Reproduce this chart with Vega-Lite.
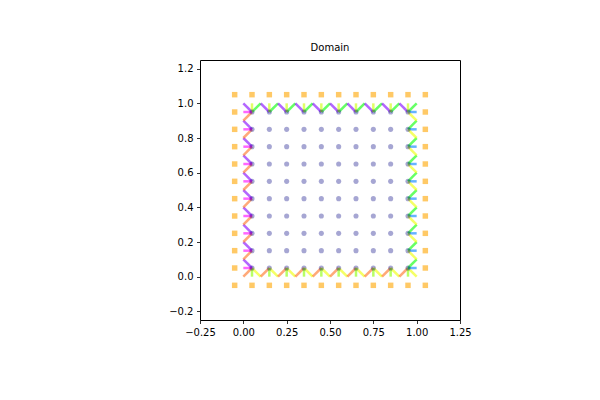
{
"$schema": "https://vega.github.io/schema/vega-lite/v6.json",
"autosize": {"type": "none"},
"padding": {"left": 200, "top": 60, "right": 140, "bottom": 80},
"width": 260,
"height": 260,
"background": "white",
"title": {"text": "Domain", "fontSize": 10, "fontWeight": "normal", "font": "DejaVu Sans", "color": "black", "offset": 7},
"config": {
"view": {"stroke": "black", "strokeWidth": 1},
"axis": {"grid": false, "domain": false, "tickColor": "black", "tickSize": 3.5, "tickWidth": 0.8, "labelPadding": 3.5, "labelFont": "DejaVu Sans", "labelFontSize": 10, "labelColor": "black", "labelFlush": false, "labelOverlap": false, "labelBound": false, "title": null}
},
"datasets": {
"ghost": [
{"x":-0.05,"y":1.05},{"x":0.05,"y":1.05},{"x":0.15,"y":1.05},{"x":0.25,"y":1.05},{"x":0.35,"y":1.05},{"x":0.45,"y":1.05},{"x":0.55,"y":1.05},{"x":0.65,"y":1.05},{"x":0.75,"y":1.05},{"x":0.85,"y":1.05},{"x":0.95,"y":1.05},{"x":1.05,"y":1.05},
{"x":-0.05,"y":-0.05},{"x":0.05,"y":-0.05},{"x":0.15,"y":-0.05},{"x":0.25,"y":-0.05},{"x":0.35,"y":-0.05},{"x":0.45,"y":-0.05},{"x":0.55,"y":-0.05},{"x":0.65,"y":-0.05},{"x":0.75,"y":-0.05},{"x":0.85,"y":-0.05},{"x":0.95,"y":-0.05},{"x":1.05,"y":-0.05},
{"x":-0.05,"y":0.05},{"x":-0.05,"y":0.15},{"x":-0.05,"y":0.25},{"x":-0.05,"y":0.35},{"x":-0.05,"y":0.45},{"x":-0.05,"y":0.55},{"x":-0.05,"y":0.65},{"x":-0.05,"y":0.75},{"x":-0.05,"y":0.85},{"x":-0.05,"y":0.95},
{"x":1.05,"y":0.05},{"x":1.05,"y":0.15},{"x":1.05,"y":0.25},{"x":1.05,"y":0.35},{"x":1.05,"y":0.45},{"x":1.05,"y":0.55},{"x":1.05,"y":0.65},{"x":1.05,"y":0.75},{"x":1.05,"y":0.85},{"x":1.05,"y":0.95}
],
"grid": [
{"x":0.05,"y":0.05},{"x":0.15,"y":0.05},{"x":0.25,"y":0.05},{"x":0.35,"y":0.05},{"x":0.45,"y":0.05},{"x":0.55,"y":0.05},{"x":0.65,"y":0.05},{"x":0.75,"y":0.05},{"x":0.85,"y":0.05},{"x":0.95,"y":0.05},
{"x":0.05,"y":0.15},{"x":0.15,"y":0.15},{"x":0.25,"y":0.15},{"x":0.35,"y":0.15},{"x":0.45,"y":0.15},{"x":0.55,"y":0.15},{"x":0.65,"y":0.15},{"x":0.75,"y":0.15},{"x":0.85,"y":0.15},{"x":0.95,"y":0.15},
{"x":0.05,"y":0.25},{"x":0.15,"y":0.25},{"x":0.25,"y":0.25},{"x":0.35,"y":0.25},{"x":0.45,"y":0.25},{"x":0.55,"y":0.25},{"x":0.65,"y":0.25},{"x":0.75,"y":0.25},{"x":0.85,"y":0.25},{"x":0.95,"y":0.25},
{"x":0.05,"y":0.35},{"x":0.15,"y":0.35},{"x":0.25,"y":0.35},{"x":0.35,"y":0.35},{"x":0.45,"y":0.35},{"x":0.55,"y":0.35},{"x":0.65,"y":0.35},{"x":0.75,"y":0.35},{"x":0.85,"y":0.35},{"x":0.95,"y":0.35},
{"x":0.05,"y":0.45},{"x":0.15,"y":0.45},{"x":0.25,"y":0.45},{"x":0.35,"y":0.45},{"x":0.45,"y":0.45},{"x":0.55,"y":0.45},{"x":0.65,"y":0.45},{"x":0.75,"y":0.45},{"x":0.85,"y":0.45},{"x":0.95,"y":0.45},
{"x":0.05,"y":0.55},{"x":0.15,"y":0.55},{"x":0.25,"y":0.55},{"x":0.35,"y":0.55},{"x":0.45,"y":0.55},{"x":0.55,"y":0.55},{"x":0.65,"y":0.55},{"x":0.75,"y":0.55},{"x":0.85,"y":0.55},{"x":0.95,"y":0.55},
{"x":0.05,"y":0.65},{"x":0.15,"y":0.65},{"x":0.25,"y":0.65},{"x":0.35,"y":0.65},{"x":0.45,"y":0.65},{"x":0.55,"y":0.65},{"x":0.65,"y":0.65},{"x":0.75,"y":0.65},{"x":0.85,"y":0.65},{"x":0.95,"y":0.65},
{"x":0.05,"y":0.75},{"x":0.15,"y":0.75},{"x":0.25,"y":0.75},{"x":0.35,"y":0.75},{"x":0.45,"y":0.75},{"x":0.55,"y":0.75},{"x":0.65,"y":0.75},{"x":0.75,"y":0.75},{"x":0.85,"y":0.75},{"x":0.95,"y":0.75},
{"x":0.05,"y":0.85},{"x":0.15,"y":0.85},{"x":0.25,"y":0.85},{"x":0.35,"y":0.85},{"x":0.45,"y":0.85},{"x":0.55,"y":0.85},{"x":0.65,"y":0.85},{"x":0.75,"y":0.85},{"x":0.85,"y":0.85},{"x":0.95,"y":0.85},
{"x":0.05,"y":0.95},{"x":0.15,"y":0.95},{"x":0.25,"y":0.95},{"x":0.35,"y":0.95},{"x":0.45,"y":0.95},{"x":0.55,"y":0.95},{"x":0.65,"y":0.95},{"x":0.75,"y":0.95},{"x":0.85,"y":0.95},{"x":0.95,"y":0.95}
],
"seg": [
{"x":0,"y":1,"x2":0.05,"y2":0.95,"d":"NW"},{"x":0.05,"y":0.95,"x2":0.1,"y2":1,"d":"NE"},{"x":0.05,"y":0.95,"x2":0.05,"y2":1,"d":"N"},
{"x":0.1,"y":1,"x2":0.15,"y2":0.95,"d":"NW"},{"x":0.15,"y":0.95,"x2":0.2,"y2":1,"d":"NE"},{"x":0.15,"y":0.95,"x2":0.15,"y2":1,"d":"N"},
{"x":0.2,"y":1,"x2":0.25,"y2":0.95,"d":"NW"},{"x":0.25,"y":0.95,"x2":0.3,"y2":1,"d":"NE"},{"x":0.25,"y":0.95,"x2":0.25,"y2":1,"d":"N"},
{"x":0.3,"y":1,"x2":0.35,"y2":0.95,"d":"NW"},{"x":0.35,"y":0.95,"x2":0.4,"y2":1,"d":"NE"},{"x":0.35,"y":0.95,"x2":0.35,"y2":1,"d":"N"},
{"x":0.4,"y":1,"x2":0.45,"y2":0.95,"d":"NW"},{"x":0.45,"y":0.95,"x2":0.5,"y2":1,"d":"NE"},{"x":0.45,"y":0.95,"x2":0.45,"y2":1,"d":"N"},
{"x":0.5,"y":1,"x2":0.55,"y2":0.95,"d":"NW"},{"x":0.55,"y":0.95,"x2":0.6,"y2":1,"d":"NE"},{"x":0.55,"y":0.95,"x2":0.55,"y2":1,"d":"N"},
{"x":0.6,"y":1,"x2":0.65,"y2":0.95,"d":"NW"},{"x":0.65,"y":0.95,"x2":0.7,"y2":1,"d":"NE"},{"x":0.65,"y":0.95,"x2":0.65,"y2":1,"d":"N"},
{"x":0.7,"y":1,"x2":0.75,"y2":0.95,"d":"NW"},{"x":0.75,"y":0.95,"x2":0.8,"y2":1,"d":"NE"},{"x":0.75,"y":0.95,"x2":0.75,"y2":1,"d":"N"},
{"x":0.8,"y":1,"x2":0.85,"y2":0.95,"d":"NW"},{"x":0.85,"y":0.95,"x2":0.9,"y2":1,"d":"NE"},{"x":0.85,"y":0.95,"x2":0.85,"y2":1,"d":"N"},
{"x":0.9,"y":1,"x2":0.95,"y2":0.95,"d":"NW"},{"x":0.95,"y":0.95,"x2":1,"y2":1,"d":"NE"},{"x":0.95,"y":0.95,"x2":0.95,"y2":1,"d":"N"},
{"x":0,"y":0,"x2":0.05,"y2":0.05,"d":"SW"},{"x":0.05,"y":0.05,"x2":0.1,"y2":0,"d":"SE"},{"x":0.05,"y":0.05,"x2":0.05,"y2":0,"d":"S"},
{"x":0.1,"y":0,"x2":0.15,"y2":0.05,"d":"SW"},{"x":0.15,"y":0.05,"x2":0.2,"y2":0,"d":"SE"},{"x":0.15,"y":0.05,"x2":0.15,"y2":0,"d":"S"},
{"x":0.2,"y":0,"x2":0.25,"y2":0.05,"d":"SW"},{"x":0.25,"y":0.05,"x2":0.3,"y2":0,"d":"SE"},{"x":0.25,"y":0.05,"x2":0.25,"y2":0,"d":"S"},
{"x":0.3,"y":0,"x2":0.35,"y2":0.05,"d":"SW"},{"x":0.35,"y":0.05,"x2":0.4,"y2":0,"d":"SE"},{"x":0.35,"y":0.05,"x2":0.35,"y2":0,"d":"S"},
{"x":0.4,"y":0,"x2":0.45,"y2":0.05,"d":"SW"},{"x":0.45,"y":0.05,"x2":0.5,"y2":0,"d":"SE"},{"x":0.45,"y":0.05,"x2":0.45,"y2":0,"d":"S"},
{"x":0.5,"y":0,"x2":0.55,"y2":0.05,"d":"SW"},{"x":0.55,"y":0.05,"x2":0.6,"y2":0,"d":"SE"},{"x":0.55,"y":0.05,"x2":0.55,"y2":0,"d":"S"},
{"x":0.6,"y":0,"x2":0.65,"y2":0.05,"d":"SW"},{"x":0.65,"y":0.05,"x2":0.7,"y2":0,"d":"SE"},{"x":0.65,"y":0.05,"x2":0.65,"y2":0,"d":"S"},
{"x":0.7,"y":0,"x2":0.75,"y2":0.05,"d":"SW"},{"x":0.75,"y":0.05,"x2":0.8,"y2":0,"d":"SE"},{"x":0.75,"y":0.05,"x2":0.75,"y2":0,"d":"S"},
{"x":0.8,"y":0,"x2":0.85,"y2":0.05,"d":"SW"},{"x":0.85,"y":0.05,"x2":0.9,"y2":0,"d":"SE"},{"x":0.85,"y":0.05,"x2":0.85,"y2":0,"d":"S"},
{"x":0.9,"y":0,"x2":0.95,"y2":0.05,"d":"SW"},{"x":0.95,"y":0.05,"x2":1,"y2":0,"d":"SE"},{"x":0.95,"y":0.05,"x2":0.95,"y2":0,"d":"S"},
{"x":0,"y":0.1,"x2":0.05,"y2":0.05,"d":"NW"},{"x":0,"y":0.05,"x2":0.05,"y2":0.05,"d":"W"},
{"x":0,"y":0.2,"x2":0.05,"y2":0.15,"d":"NW"},{"x":0.05,"y":0.15,"x2":0,"y2":0.1,"d":"SW"},{"x":0,"y":0.15,"x2":0.05,"y2":0.15,"d":"W"},
{"x":0,"y":0.3,"x2":0.05,"y2":0.25,"d":"NW"},{"x":0.05,"y":0.25,"x2":0,"y2":0.2,"d":"SW"},{"x":0,"y":0.25,"x2":0.05,"y2":0.25,"d":"W"},
{"x":0,"y":0.4,"x2":0.05,"y2":0.35,"d":"NW"},{"x":0.05,"y":0.35,"x2":0,"y2":0.3,"d":"SW"},{"x":0,"y":0.35,"x2":0.05,"y2":0.35,"d":"W"},
{"x":0,"y":0.5,"x2":0.05,"y2":0.45,"d":"NW"},{"x":0.05,"y":0.45,"x2":0,"y2":0.4,"d":"SW"},{"x":0,"y":0.45,"x2":0.05,"y2":0.45,"d":"W"},
{"x":0,"y":0.6,"x2":0.05,"y2":0.55,"d":"NW"},{"x":0.05,"y":0.55,"x2":0,"y2":0.5,"d":"SW"},{"x":0,"y":0.55,"x2":0.05,"y2":0.55,"d":"W"},
{"x":0,"y":0.7,"x2":0.05,"y2":0.65,"d":"NW"},{"x":0.05,"y":0.65,"x2":0,"y2":0.6,"d":"SW"},{"x":0,"y":0.65,"x2":0.05,"y2":0.65,"d":"W"},
{"x":0,"y":0.8,"x2":0.05,"y2":0.75,"d":"NW"},{"x":0.05,"y":0.75,"x2":0,"y2":0.7,"d":"SW"},{"x":0,"y":0.75,"x2":0.05,"y2":0.75,"d":"W"},
{"x":0,"y":0.9,"x2":0.05,"y2":0.85,"d":"NW"},{"x":0.05,"y":0.85,"x2":0,"y2":0.8,"d":"SW"},{"x":0,"y":0.85,"x2":0.05,"y2":0.85,"d":"W"},
{"x":0.05,"y":0.95,"x2":0,"y2":0.9,"d":"SW"},{"x":0,"y":0.95,"x2":0.05,"y2":0.95,"d":"W"},
{"x":0.95,"y":0.05,"x2":1,"y2":0.05,"d":"E"},{"x":0.95,"y":0.05,"x2":1,"y2":0.1,"d":"NE"},
{"x":0.95,"y":0.15,"x2":1,"y2":0.15,"d":"E"},{"x":0.95,"y":0.15,"x2":1,"y2":0.2,"d":"NE"},{"x":0.95,"y":0.15,"x2":1,"y2":0.1,"d":"SE"},
{"x":0.95,"y":0.25,"x2":1,"y2":0.25,"d":"E"},{"x":0.95,"y":0.25,"x2":1,"y2":0.3,"d":"NE"},{"x":0.95,"y":0.25,"x2":1,"y2":0.2,"d":"SE"},
{"x":0.95,"y":0.35,"x2":1,"y2":0.35,"d":"E"},{"x":0.95,"y":0.35,"x2":1,"y2":0.4,"d":"NE"},{"x":0.95,"y":0.35,"x2":1,"y2":0.3,"d":"SE"},
{"x":0.95,"y":0.45,"x2":1,"y2":0.45,"d":"E"},{"x":0.95,"y":0.45,"x2":1,"y2":0.5,"d":"NE"},{"x":0.95,"y":0.45,"x2":1,"y2":0.4,"d":"SE"},
{"x":0.95,"y":0.55,"x2":1,"y2":0.55,"d":"E"},{"x":0.95,"y":0.55,"x2":1,"y2":0.6,"d":"NE"},{"x":0.95,"y":0.55,"x2":1,"y2":0.5,"d":"SE"},
{"x":0.95,"y":0.65,"x2":1,"y2":0.65,"d":"E"},{"x":0.95,"y":0.65,"x2":1,"y2":0.7,"d":"NE"},{"x":0.95,"y":0.65,"x2":1,"y2":0.6,"d":"SE"},
{"x":0.95,"y":0.75,"x2":1,"y2":0.75,"d":"E"},{"x":0.95,"y":0.75,"x2":1,"y2":0.8,"d":"NE"},{"x":0.95,"y":0.75,"x2":1,"y2":0.7,"d":"SE"},
{"x":0.95,"y":0.85,"x2":1,"y2":0.85,"d":"E"},{"x":0.95,"y":0.85,"x2":1,"y2":0.9,"d":"NE"},{"x":0.95,"y":0.85,"x2":1,"y2":0.8,"d":"SE"},
{"x":0.95,"y":0.95,"x2":1,"y2":0.95,"d":"E"},{"x":0.95,"y":0.95,"x2":1,"y2":0.9,"d":"SE"}
]
},
"encoding": {
"x": {"field": "x", "type": "quantitative", "scale": {"domain": [-0.25, 1.25], "nice": false, "zero": false}, "axis": {"values": [-0.25, 0, 0.25, 0.5, 0.75, 1, 1.25], "format": ".2f"}},
"y": {"field": "y", "type": "quantitative", "scale": {"domain": [-0.25, 1.25], "nice": false, "zero": false}, "axis": {"values": [-0.2, 0, 0.2, 0.4, 0.6, 0.8, 1, 1.2], "format": ".1f"}}
},
"layer": [
{"data": {"name": "ghost"}, "mark": {"type": "point", "shape": "square", "filled": true, "size": 30, "color": "#ffa500", "opacity": 0.6, "strokeWidth": 0}},
{"data": {"name": "seg"}, "mark": {"type": "rule", "strokeWidth": 2.5, "opacity": 0.6},
 "encoding": {
  "x2": {"field": "x2"},
  "y2": {"field": "y2"},
  "color": {"field": "d", "type": "nominal", "legend": null, "scale": {"domain": ["E","NE","N","NW","W","SW","S","SE"], "range": ["#0080ff","#00ff00","#ccff00","#8000ff","#ff00ff","#ff6f20","#88ff00","#eeff00"]}}
 }},
{"data": {"name": "grid"}, "mark": {"type": "circle", "size": 26, "color": "#000080", "opacity": 0.35}}
]
}
